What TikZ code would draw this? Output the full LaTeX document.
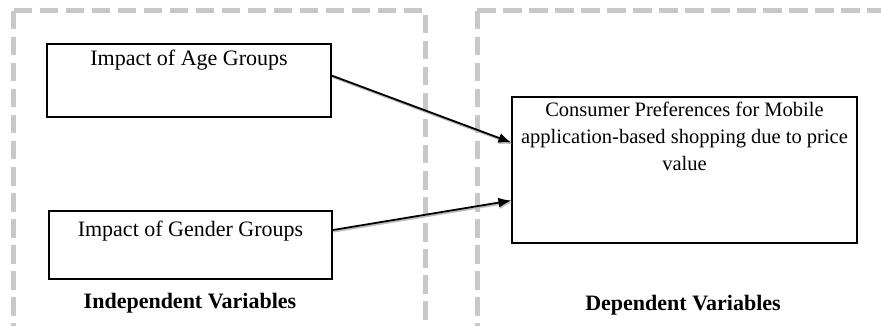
\documentclass[tikz,border=0pt]{standalone}
\usepackage{fontspec}
\setmainfont{Liberation Serif}
\usepackage{tikz}
\usetikzlibrary{arrows.meta}
\definecolor{framegray}{RGB}{200,200,200}
\definecolor{shadegray}{RGB}{190,190,190}

\begin{document}
\begin{tikzpicture}[x=1pt,y=1pt]
	\tikzstyle{every node}+=[inner sep=0pt]
	\tikzstyle{frame}=[framegray, line width=5pt, dash pattern=on 18.5pt off 7.5pt]
	\tikzstyle{varbox}=[draw, line width=1.1pt, font=\fontsize{22}{25}\selectfont]
	\tikzstyle{link}=[line width=1.8pt, -{Latex[length=13pt,width=10pt]},
		preaction={draw=shadegray, line width=1.8pt, transform canvas={shift={(0.9pt,-1.6pt)}}}]
	\tikzstyle{head}=[font=\fontsize{22}{25}\selectfont\bfseries]
	\useasboundingbox (0,0) rectangle (881,-326);
	% dashed frames
	\draw [frame] (13.5,-11) -- (13.5,-340);
	\draw [frame] (13.5,-11) -- (425.5,-11) -- (425.5,-340);
	\draw [frame] (477,-11) -- (477,-340);
	\draw [frame] (477,-11) -- (900,-11);
	% boxes
	\node (age) [varbox, minimum width=284pt, text height=22pt, text depth=51pt] at (189,-80.5) {Impact of Age Groups};
	\node (gender) [varbox, minimum width=283pt, text height=25pt, text depth=43pt] at (190.5,-245) {Impact of Gender Groups};
	\node (pref) [varbox, font=\fontsize{20.5}{27}\selectfont] at (684.5,-170) {\parbox[c][146pt][t]{345pt}{\centering\vspace*{5pt}%
		Consumer Preferences for Mobile\\application-based shopping due to price\\value}};
	% arrows
	\draw [link] (age.2) -- (pref.171);
	\draw [link] (gender.6) -- (pref.190);
	% headings
	\node (indep) [head] at (190,-303) {Independent Variables};
	\node (dep) [head] at (683,-305) {Dependent Variables};
\end{tikzpicture}
\end{document}
